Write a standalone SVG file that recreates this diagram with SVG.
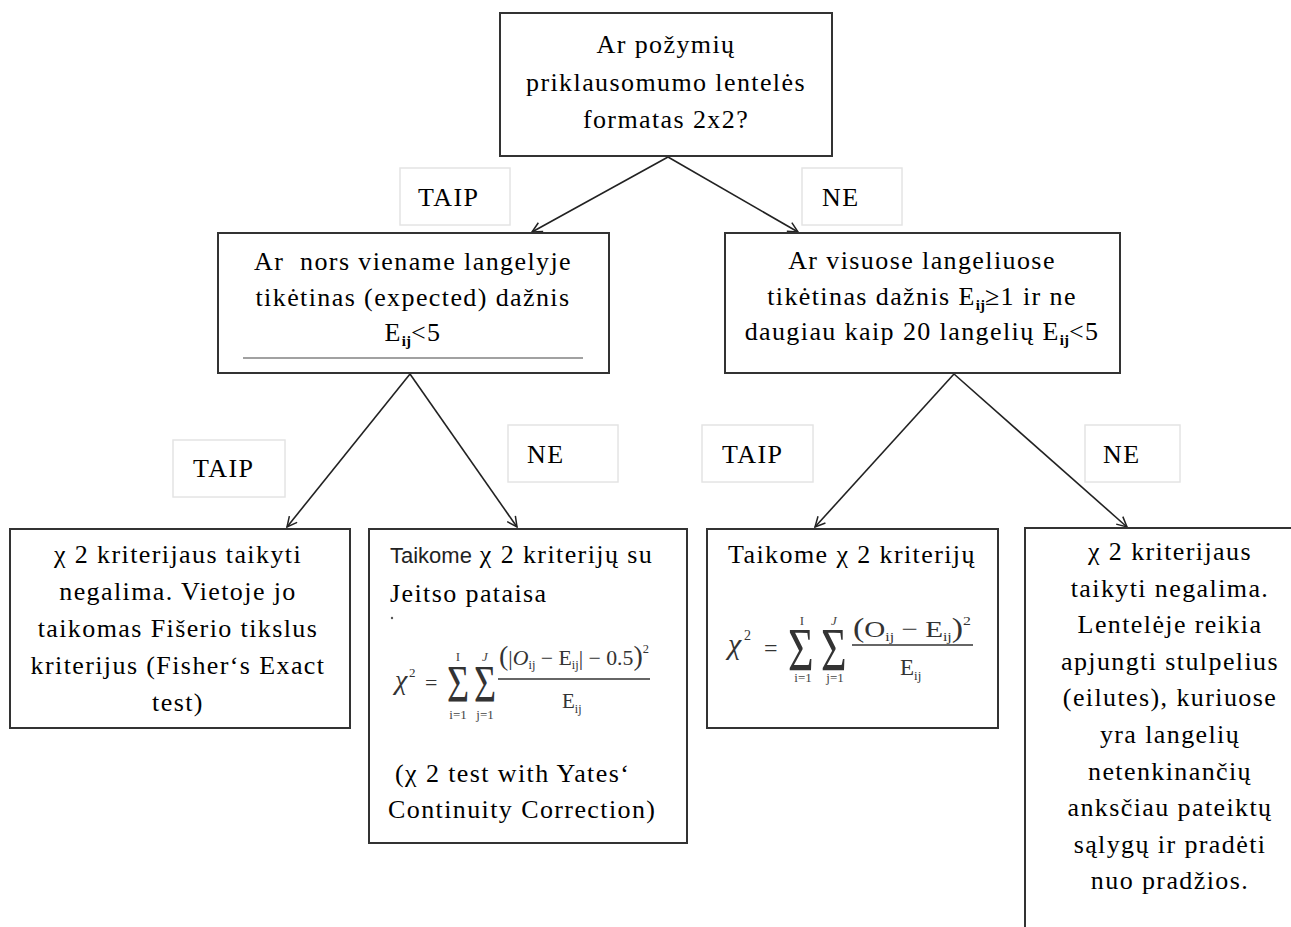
<svg xmlns="http://www.w3.org/2000/svg" width="1291" height="927" viewBox="0 0 1291 927">
  <style>
    .box { fill: #fff; stroke: #333; stroke-width: 2; }
    .lbl { fill: #fff; stroke: #e4e4e4; stroke-width: 1.5; }
    .t { font-family: "Liberation Serif", "Times New Roman", serif; font-size: 26px; letter-spacing: 1.4px; fill: #000; white-space: pre; }
    .c { text-anchor: middle; }
    .sub { font-size: 15px; font-weight: bold; letter-spacing: 0; }
    .sans { font-family: "Liberation Sans", Arial, sans-serif; font-size: 22px; letter-spacing: 0; fill: #222; }
    .fm { font-family: "Liberation Serif", "Times New Roman", serif; fill: #333; }
    .lim { font-family: "Liberation Serif", "Times New Roman", serif; font-size: 13px; fill: #444; text-anchor: middle; }
    .edge { fill: none; stroke: #222; stroke-width: 1.6; }
  </style>
  <defs>
    <marker id="open" viewBox="0 0 12 12" refX="11" refY="6" markerWidth="12" markerHeight="12" markerUnits="userSpaceOnUse" orient="auto">
      <path d="M1,1 L11,6 L1,11" fill="none" stroke="#222" stroke-width="1.5"/>
    </marker>
  </defs>

  <rect width="1291" height="927" fill="#fff"/>

  <!-- connectors -->
  <g id="connectors">
    <line class="edge" x1="668" y1="157" x2="532" y2="232" marker-end="url(#open)"/>
    <line class="edge" x1="668" y1="157" x2="798" y2="232" marker-end="url(#open)"/>
    <line class="edge" x1="410" y1="374" x2="287" y2="527" marker-end="url(#open)"/>
    <line class="edge" x1="410" y1="374" x2="517" y2="527" marker-end="url(#open)"/>
    <line class="edge" x1="954" y1="374" x2="815" y2="527" marker-end="url(#open)"/>
    <line class="edge" x1="954" y1="374" x2="1127" y2="527" marker-end="url(#open)"/>
  </g>

  <!-- branch labels -->
  <g id="label-taip-1">
    <rect class="lbl" x="400" y="168" width="110" height="57"/>
    <text class="t" x="418" y="206">TAIP</text>
  </g>
  <g id="label-ne-1">
    <rect class="lbl" x="802" y="168" width="100" height="57"/>
    <text class="t" x="822" y="206">NE</text>
  </g>
  <g id="label-taip-2">
    <rect class="lbl" x="173" y="440" width="112" height="57"/>
    <text class="t" x="193" y="477">TAIP</text>
  </g>
  <g id="label-ne-2">
    <rect class="lbl" x="508" y="425" width="110" height="57"/>
    <text class="t" x="527" y="463">NE</text>
  </g>
  <g id="label-taip-3">
    <rect class="lbl" x="702" y="425" width="111" height="57"/>
    <text class="t" x="722" y="463">TAIP</text>
  </g>
  <g id="label-ne-3">
    <rect class="lbl" x="1085" y="425" width="95" height="57"/>
    <text class="t" x="1103" y="463">NE</text>
  </g>

  <!-- root question -->
  <g id="q-format">
    <rect class="box" x="500" y="13" width="332" height="143"/>
    <text class="t c" x="666" y="53">Ar požymių</text>
    <text class="t c" x="666" y="91">priklausomumo lentelės</text>
    <text class="t c" x="666" y="128">formatas 2x2?</text>
  </g>

  <!-- 2x2 branch question -->
  <g id="q-expected">
    <rect class="box" x="218" y="233" width="391" height="140"/>
    <text class="t c" x="413" y="270">Ar  nors viename langelyje</text>
    <text class="t c" x="413" y="306">tikėtinas (expected) dažnis</text>
    <text class="t c" x="413" y="341">E<tspan class="sub" dy="5">ij</tspan><tspan dy="-5">&lt;5</tspan></text>
    <line x1="243" y1="358" x2="583" y2="358" stroke="#444" stroke-width="1.2"/>
  </g>

  <!-- larger table branch question -->
  <g id="q-cells">
    <rect class="box" x="725" y="233" width="395" height="140"/>
    <text class="t c" x="922" y="269">Ar visuose langeliuose</text>
    <text class="t c" x="922" y="305">tikėtinas dažnis E<tspan class="sub" dy="5">ij</tspan><tspan dy="-5">≥1 ir ne</tspan></text>
    <text class="t c" x="922" y="340">daugiau kaip 20 langelių E<tspan class="sub" dy="5">ij</tspan><tspan dy="-5">&lt;5</tspan></text>
  </g>

  <!-- Fisher exact test -->
  <g id="r-fisher">
    <rect class="box" x="10" y="529" width="340" height="199"/>
    <text class="t c" x="178" y="563">χ 2 kriterijaus taikyti</text>
    <text class="t c" x="178" y="600">negalima. Vietoje jo</text>
    <text class="t c" x="178" y="637">taikomas Fišerio tikslus</text>
    <text class="t c" x="178" y="674">kriterijus (Fisher‘s Exact</text>
    <text class="t c" x="178" y="711">test)</text>
  </g>

  <!-- Yates corrected chi-square -->
  <g id="r-yates">
    <rect class="box" x="369" y="529" width="318" height="314"/>
    <text class="t" x="390" y="563"><tspan class="sans">Taikome</tspan> χ 2 kriterijų su</text>
    <text class="t" x="390" y="602">Jeitso pataisa</text>
    <circle cx="392" cy="618" r="1.2" fill="#555"/>
    <text class="fm" x="395" y="689" font-size="28" font-style="italic">χ</text>
    <text class="fm" x="409" y="677" font-size="13">2</text>
    <text class="fm" x="425" y="690" font-size="22">=</text>
    <text class="fm" font-size="38" transform="translate(447,702) scale(1,1.4)">Σ</text>
    <text class="fm" font-size="38" transform="translate(474,702) scale(1,1.4)">Σ</text>
    <text class="lim" x="458" y="661">I</text>
    <text class="lim" x="485" y="661" font-style="italic">J</text>
    <text class="lim" x="458" y="719">i=1</text>
    <text class="lim" x="485" y="719">j=1</text>
    <line x1="498" y1="679" x2="650" y2="679" stroke="#333" stroke-width="1.5"/>
    <text class="fm" x="499" y="665" font-size="21" textLength="150" lengthAdjust="spacingAndGlyphs"><tspan font-size="27">(</tspan>|<tspan font-style="italic">O</tspan><tspan font-size="12" dy="4">ij</tspan><tspan dy="-4"> − E</tspan><tspan font-size="12" dy="4">ij</tspan><tspan dy="-4">| − 0.5</tspan><tspan font-size="27">)</tspan><tspan font-size="12" dy="-12">2</tspan></text>
    <text class="fm" x="562" y="708" font-size="21">E<tspan font-size="12" dy="5">ij</tspan></text>
    <text class="t" x="395" y="782">(χ 2 test with Yates‘</text>
    <text class="t" x="388" y="818">Continuity Correction)</text>
  </g>

  <!-- plain chi-square -->
  <g id="r-chi">
    <rect class="box" x="707" y="529" width="291" height="199"/>
    <text class="t c" x="852" y="563">Taikome χ 2 kriterijų</text>
    <text class="fm" x="728" y="654" font-size="30" font-style="italic">χ</text>
    <text class="fm" x="744" y="640" font-size="14">2</text>
    <text class="fm" x="764" y="656" font-size="24">=</text>
    <text class="fm" font-size="44" transform="translate(788,670) scale(1,1.38)">Σ</text>
    <text class="fm" font-size="44" transform="translate(821,670) scale(1,1.38)">Σ</text>
    <text class="lim" x="802" y="625">I</text>
    <text class="lim" x="834" y="625" font-style="italic">J</text>
    <text class="lim" x="803" y="682">i=1</text>
    <text class="lim" x="835" y="682">j=1</text>
    <line x1="852" y1="645" x2="973" y2="645" stroke="#333" stroke-width="1.5"/>
    <text class="fm" x="853" y="637" font-size="24" textLength="118" lengthAdjust="spacingAndGlyphs"><tspan font-size="28">(</tspan>O<tspan font-size="13" dy="4">ij</tspan><tspan dy="-4"> − E</tspan><tspan font-size="13" dy="4">ij</tspan><tspan dy="-4" font-size="28">)</tspan><tspan font-size="13" dy="-12">2</tspan></text>
    <text class="fm" x="900" y="675" font-size="23">E<tspan font-size="13" dy="5">ij</tspan></text>
  </g>

  <!-- merge columns advice -->
  <g id="r-merge">
    <rect class="box" x="1025" y="528" width="300" height="450"/>
    <text class="t c" x="1170" y="560">χ 2 kriterijaus</text>
    <text class="t c" x="1170" y="597">taikyti negalima.</text>
    <text class="t c" x="1170" y="633">Lentelėje reikia</text>
    <text class="t c" x="1170" y="670">apjungti stulpelius</text>
    <text class="t c" x="1170" y="706">(eilutes), kuriuose</text>
    <text class="t c" x="1170" y="743">yra langelių</text>
    <text class="t c" x="1170" y="780">netenkinančių</text>
    <text class="t c" x="1170" y="816">anksčiau pateiktų</text>
    <text class="t c" x="1170" y="853">sąlygų ir pradėti</text>
    <text class="t c" x="1170" y="889">nuo pradžios.</text>
  </g>
</svg>
